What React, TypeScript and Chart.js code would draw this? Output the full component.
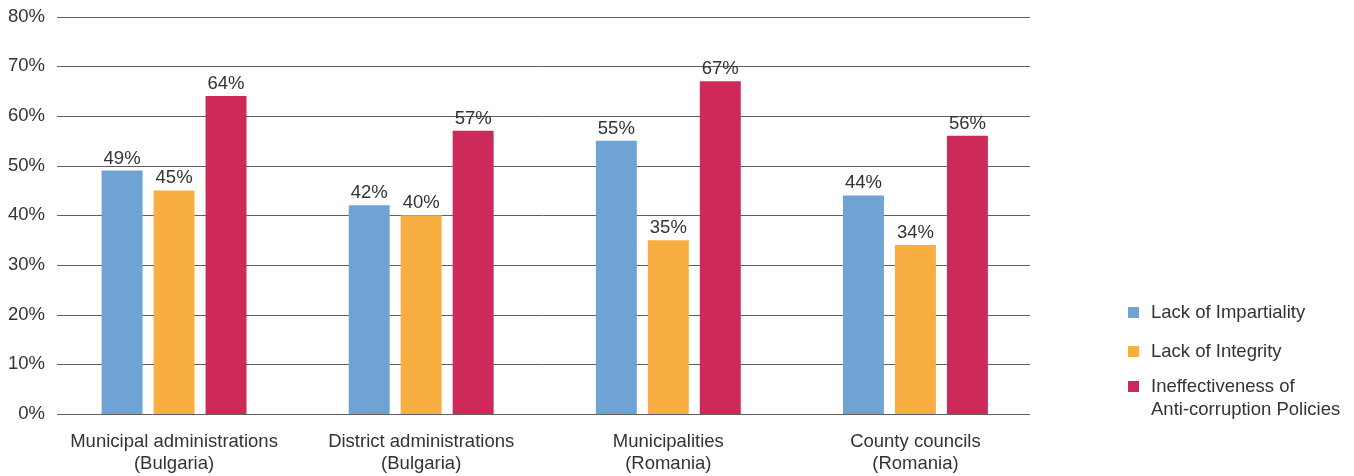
import React, { useEffect, useRef } from "react";
import { Chart, registerables } from "chart.js";

Chart.register(...registerables);

const categories: string[][] = [
  ["Municipal administrations", "(Bulgaria)"],
  ["District administrations", "(Bulgaria)"],
  ["Municipalities", "(Romania)"],
  ["County councils", "(Romania)"],
];
const seriesNames = ["Lack of Impartiality", "Lack of Integrity", "Ineffectiveness of Anti-corruption Policies"];
const legendLines: string[][] = [
  ["Lack of Impartiality"],
  ["Lack of Integrity"],
  ["Ineffectiveness of", "Anti-corruption Policies"],
];
const impartiality = [49, 42, 55, 44];
const integrity = [45, 40, 35, 34];
const ineffectiveness = [64, 57, 67, 56];
const colors = ["#6FA3D4", "#F9AE42", "#CD2A5A"];
const yTicks = [0, 10, 20, 30, 40, 50, 60, 70, 80];

const FONT = "Arial, 'Liberation Sans', sans-serif";
const TEXT = "#333333";
const FS = 18.5;

const valueLabels = {
  id: "valueLabels",
  afterDatasetsDraw(chart: any) {
    const ctx = chart.ctx;
    ctx.save();
    ctx.font = `${FS}px ${FONT}`;
    ctx.fillStyle = TEXT;
    ctx.textAlign = "center";
    ctx.textBaseline = "alphabetic";
    chart.data.datasets.forEach((ds: any, i: number) => {
      const meta = chart.getDatasetMeta(i);
      meta.data.forEach((bar: any, j: number) => {
        ctx.fillText(ds.data[j] + "%", bar.x, bar.y - 7);
      });
    });
    ctx.restore();
  },
};

const gridLines = {
  id: "gridLines",
  beforeDatasetsDraw(chart: any) {
    const ctx = chart.ctx;
    const y = chart.scales.y;
    const { left, right } = chart.chartArea;
    ctx.save();
    ctx.strokeStyle = "#5e5e5e";
    ctx.lineWidth = 1;
    yTicks.forEach((v) => {
      const py = Math.round(y.getPixelForValue(v)) + 0.5;
      ctx.beginPath();
      ctx.moveTo(left + 6.5, py);
      ctx.lineTo(right - 9, py);
      ctx.stroke();
    });
    ctx.restore();
  },
};

export default function App() {
  const ref = useRef<HTMLCanvasElement>(null);
  useEffect(() => {
    document.body.style.margin = "0";
    const chart = new Chart(ref.current!, {
      type: "bar",
      data: {
        labels: categories,
        datasets: [impartiality, integrity, ineffectiveness].map((d, i) => ({
          label: seriesNames[i],
          data: d,
          backgroundColor: colors[i],
          categoryPercentage: 0.631,
          barPercentage: 0.788,
        })),
      },
      options: {
        animation: false,
        responsive: false,
        maintainAspectRatio: false,
        layout: { padding: { top: 5, right: 315, left: 0, bottom: 0 } },
        plugins: { legend: { display: false }, tooltip: { enabled: false } },
        scales: {
          x: {
            grid: { display: false, tickLength: 0 },
            border: { display: false },
            afterFit: (axis: any) => {
              axis.height = 62;
            },
            ticks: { color: TEXT, font: { family: FONT, size: FS, lineHeight: 1.19 }, padding: 17, maxRotation: 0 },
          },
          y: {
            min: 0,
            max: 80,
            afterBuildTicks: (axis: any) => {
              axis.ticks = yTicks.map((v) => ({ value: v }));
            },
            afterFit: (axis: any) => {
              axis.width = 50.5;
            },
            ticks: {
              color: TEXT,
              font: { family: FONT, size: FS },
              padding: 5.5,
              callback: (v: any) => v + "%",
            },
            grid: { display: false, tickLength: 0 },
            border: { display: false },
          },
        },
      },
      plugins: [gridLines, valueLabels],
    });
    return () => chart.destroy();
  }, []);
  return (
    <div style={{ position: "absolute", left: 0, top: 0, width: 1354, height: 476 }}>
      <canvas ref={ref} width={1354} height={476} style={{ width: 1354, height: 476 }} />
      {legendLines.map((lines, i) => (
        <div
          key={i}
          style={{
            position: "absolute",
            left: 1128,
            top: [300, 339, 374][i],
            display: "flex",
            alignItems: "flex-start",
            fontFamily: FONT,
            fontSize: FS,
            color: TEXT,
            lineHeight: "23px",
          }}
        >
          <span style={{ width: 11, height: 11, background: colors[i], marginTop: 7, marginRight: 12, flexShrink: 0 }} />
          <span>
            {lines.map((l, k) => (
              <div key={k}>{l}</div>
            ))}
          </span>
        </div>
      ))}
    </div>
  );
}
